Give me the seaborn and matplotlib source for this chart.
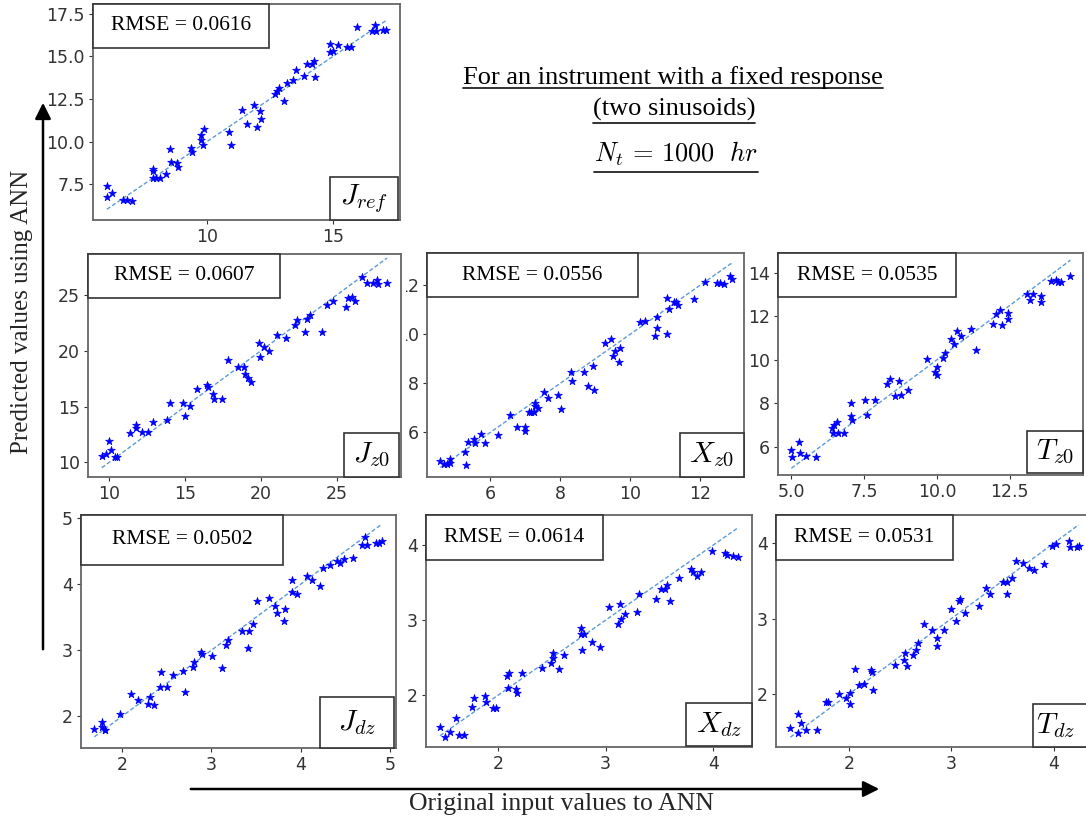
import matplotlib
matplotlib.use("Agg")
import matplotlib.pyplot as plt
import seaborn as sns
from matplotlib.patches import Rectangle, FancyArrowPatch
from matplotlib.lines import Line2D

# ---------------- data ----------------
panel_labels = [r"$J_{ref}$", r"$J_{z0}$", r"$X_{z0}$", r"$T_{z0}$", r"$J_{dz}$", r"$X_{dz}$", r"$T_{dz}$"]
rmse_values = ["0.0616", "0.0607", "0.0556", "0.0535", "0.0502", "0.0614", "0.0531"]

jref_orig = [6.03, 6.05, 6.24, 6.67, 6.83, 7.04, 7.86, 7.88, 7.86, 7.96, 8.12, 8.39, 8.52, 8.56, 8.82, 8.84,
             9.35, 9.42, 9.76, 9.78, 9.87, 9.86, 10.87, 10.95, 11.39, 11.60, 11.85, 11.99, 12.09, 12.13,
             12.72, 12.79, 12.86, 13.04, 13.17, 13.41, 13.52, 13.84, 13.97, 14.17, 14.23, 14.27, 14.87,
             14.87, 15.00, 15.20, 15.56, 15.73, 15.95, 16.56, 16.65, 16.69, 16.98, 17.12]
jref_pred = [7.39, 6.73, 6.96, 6.59, 6.59, 6.51, 8.38, 8.25, 7.86, 7.86, 7.86, 8.09, 9.59, 8.79, 8.73, 8.54,
             9.63, 9.42, 10.37, 10.08, 10.72, 9.81, 10.57, 9.79, 11.85, 11.05, 12.18, 10.88, 11.79, 11.35,
             12.77, 13.00, 13.12, 12.38, 13.47, 13.59, 14.19, 13.88, 14.58, 14.54, 14.76, 13.80, 15.75,
             15.26, 15.34, 15.69, 15.56, 15.56, 16.73, 16.51, 16.86, 16.51, 16.55, 16.55]

jz0_orig = [9.52, 9.82, 10.00, 10.11, 10.37, 10.53, 11.37, 11.76, 11.76, 12.14, 12.58, 12.91, 13.79, 14.01,
            14.85, 15.00, 15.33, 15.81, 16.48, 16.54, 16.87, 16.92, 17.47, 17.86, 18.52, 18.92, 18.96,
            19.14, 19.36, 19.91, 19.96, 20.24, 20.57, 21.06, 21.67, 22.29, 22.42, 22.89, 23.06, 23.22,
            24.05, 24.36, 24.76, 25.64, 25.73, 26.01, 26.23, 26.67, 27.00, 27.40, 27.67, 27.74, 28.33]
jz0_pred = [10.54, 10.78, 11.88, 11.13, 10.48, 10.48, 12.63, 13.37, 13.07, 12.69, 12.69, 13.58, 13.76, 15.31,
            15.37, 14.12, 15.10, 16.57, 16.96, 16.75, 16.15, 15.67, 15.67, 19.19, 18.60, 18.60, 17.94,
            17.55, 17.25, 20.69, 19.43, 20.39, 20.03, 21.43, 21.13, 22.30, 22.78, 21.73, 22.90, 23.19,
            21.73, 24.12, 24.51, 23.97, 24.72, 24.81, 24.48, 26.60, 26.12, 26.12, 26.36, 26.00, 26.06]

xz0_orig = [4.57, 4.67, 4.76, 4.84, 4.86, 5.29, 5.31, 5.36, 5.54, 5.57, 5.74, 5.84, 6.22, 6.57, 6.76, 7.00,
            7.00, 7.10, 7.17, 7.24, 7.29, 7.29, 7.38, 7.54, 7.65, 7.95, 8.02, 8.31, 8.35, 8.67, 8.81, 8.97,
            8.93, 9.29, 9.45, 9.50, 9.57, 9.67, 9.71, 10.29, 10.43, 10.71, 10.78, 10.78, 11.05, 11.07,
            11.12, 11.26, 11.31, 11.36, 11.84, 12.14, 12.48, 12.57, 12.70, 12.86, 12.93]
xz0_pred = [4.82, 4.72, 4.72, 4.93, 4.75, 5.22, 4.68, 5.61, 5.74, 5.56, 5.95, 5.56, 5.88, 6.69, 6.24, 6.22,
            6.07, 6.83, 6.83, 6.83, 7.20, 7.09, 6.99, 7.63, 7.40, 7.54, 6.97, 8.45, 8.08, 8.46, 7.88, 7.74,
            8.69, 9.65, 9.81, 9.13, 9.33, 8.86, 9.44, 10.49, 10.53, 9.95, 10.71, 10.26, 10.01, 11.48,
            11.05, 11.33, 11.33, 11.18, 11.44, 12.12, 12.10, 12.10, 12.05, 12.37, 12.26]

tz0_orig = [5.00, 5.03, 5.25, 5.29, 5.49, 5.84, 6.41, 6.45, 6.57, 6.43, 6.60, 6.81, 7.06, 7.04, 7.08, 7.52,
            7.60, 7.89, 8.30, 8.40, 8.55, 8.70, 8.78, 9.01, 9.66, 9.95, 10.01, 10.02, 10.21, 10.27, 10.50,
            10.59, 10.69, 10.84, 11.16, 11.36, 11.93, 12.04, 12.18, 12.22, 12.45, 12.45, 13.10, 13.19,
            13.30, 13.56, 13.59, 13.93, 14.08, 14.16, 14.27, 14.59]
tz0_pred = [5.85, 5.54, 6.20, 5.69, 5.57, 5.54, 6.85, 7.00, 7.11, 6.62, 6.62, 6.62, 8.03, 7.42, 7.23, 8.15,
            7.46, 8.15, 8.89, 9.11, 8.34, 9.00, 8.38, 8.62, 10.03, 9.42, 9.31, 9.66, 10.08, 10.31, 10.97,
            10.74, 11.31, 11.08, 11.43, 10.46, 11.65, 12.12, 12.31, 11.60, 12.15, 11.88, 13.03, 12.74,
            13.05, 12.92, 12.66, 13.62, 13.69, 13.57, 13.57, 13.88]

jdz_orig = [1.69, 1.78, 1.78, 1.81, 1.81, 1.98, 2.10, 2.18, 2.29, 2.31, 2.36, 2.44, 2.43, 2.50, 2.57, 2.68,
            2.71, 2.79, 2.81, 2.89, 2.90, 3.01, 3.12, 3.16, 3.19, 3.34, 3.42, 3.41, 3.47, 3.51, 3.65, 3.71,
            3.74, 3.82, 3.83, 3.90, 3.91, 3.96, 4.07, 4.13, 4.22, 4.25, 4.33, 4.41, 4.44, 4.49, 4.59, 4.69,
            4.72, 4.74, 4.85, 4.88, 4.91]
jdz_pred = [1.81, 1.91, 1.84, 1.80, 1.79, 2.03, 2.34, 2.25, 2.18, 2.29, 2.17, 2.67, 2.44, 2.44, 2.63, 2.68,
            2.37, 2.75, 2.82, 2.98, 2.95, 2.91, 2.73, 3.08, 3.16, 3.30, 3.30, 3.03, 3.40, 3.75, 3.80, 3.67,
            3.56, 3.45, 3.63, 4.07, 3.88, 3.85, 4.13, 4.06, 3.97, 4.24, 4.29, 4.35, 4.33, 4.38, 4.40, 4.60,
            4.71, 4.60, 4.62, 4.62, 4.65]

xdz_orig = [1.46, 1.51, 1.55, 1.61, 1.64, 1.68, 1.76, 1.78, 1.88, 1.89, 1.95, 1.98, 2.08, 2.10, 2.09, 2.17,
            2.18, 2.22, 2.41, 2.49, 2.51, 2.51, 2.57, 2.61, 2.77, 2.77, 2.80, 2.78, 2.87, 2.95, 3.03, 3.11,
            3.13, 3.14, 3.18, 3.29, 3.31, 3.47, 3.51, 3.55, 3.57, 3.60, 3.68, 3.79, 3.81, 3.85, 3.89, 3.99,
            4.11, 4.13, 4.18, 4.23]
xdz_pred = [1.58, 1.44, 1.51, 1.69, 1.47, 1.47, 1.84, 1.96, 1.99, 1.91, 1.83, 1.83, 2.26, 2.30, 2.10, 2.08,
            2.03, 2.30, 2.36, 2.43, 2.50, 2.56, 2.35, 2.53, 2.90, 2.82, 2.82, 2.60, 2.71, 2.64, 3.18, 2.95,
            3.22, 3.02, 3.08, 3.11, 3.35, 3.28, 3.41, 3.42, 3.47, 3.26, 3.56, 3.68, 3.64, 3.59, 3.64, 3.92,
            3.89, 3.87, 3.85, 3.84]

tdz_orig = [1.43, 1.50, 1.50, 1.53, 1.58, 1.69, 1.78, 1.80, 1.90, 1.97, 2.01, 2.01, 2.06, 2.10, 2.15, 2.22,
            2.23, 2.24, 2.45, 2.54, 2.55, 2.57, 2.63, 2.65, 2.67, 2.73, 2.81, 2.86, 2.86, 2.93, 3.00, 3.04,
            3.07, 3.08, 3.13, 3.27, 3.34, 3.38, 3.50, 3.54, 3.54, 3.59, 3.63, 3.70, 3.76, 3.80, 3.90, 3.98,
            4.02, 4.15, 4.16, 4.22, 4.24]
tdz_pred = [1.55, 1.49, 1.74, 1.62, 1.52, 1.52, 1.89, 1.89, 2.00, 1.95, 1.87, 2.02, 2.33, 2.12, 2.13, 2.32,
            2.29, 2.06, 2.39, 2.45, 2.55, 2.37, 2.52, 2.59, 2.67, 2.93, 2.85, 2.74, 2.63, 2.85, 3.12, 2.97,
            3.23, 3.26, 3.07, 3.16, 3.41, 3.32, 3.48, 3.48, 3.32, 3.54, 3.76, 3.74, 3.67, 3.64, 3.72, 3.96,
            3.98, 4.03, 3.94, 3.94, 3.96]

title_lines = ["For an instrument with a fixed response", "(two sinusoids)", r"$N_t\,=\,1000\ \ hr$"]
y_label = "Predicted values using ANN"
x_label = "Original input values to ANN"

series = [(jref_orig, jref_pred), (jz0_orig, jz0_pred), (xz0_orig, xz0_pred), (tz0_orig, tz0_pred),
          (jdz_orig, jdz_pred), (xdz_orig, xdz_pred), (tdz_orig, tdz_pred)]

# ---------------- layout / style ----------------
W, H = 1086, 823
sns.set_theme(style="white")
plt.rcParams["font.family"] = ["DejaVu Sans"]
plt.rcParams["mathtext.fontset"] = "cm"
SERIF = ["Liberation Serif", "DejaVu Serif"]

fig = plt.figure(figsize=(W / 100, H / 100), dpi=100)
fig.patch.set_facecolor("white")

def frect(l, t, r, b):
    return [l / W, 1 - b / H, (r - l) / W, (b - t) / H]

layout = [
    dict(rect=(93, 4, 400, 220), xlim=(5.48, 17.66), ylim=(5.4, 18.08), xt=[10, 15], yt=[7.5, 10, 12.5, 15, 17.5],
         xf="{:.0f}", yf="{:.1f}", rb=(176, 44), lb=(330, 177, 398, 220), z=2),
    dict(rect=(88, 254, 401, 477), xlim=(8.61, 29.25), ylim=(8.69, 28.69), xt=[10, 15, 20, 25], yt=[10, 15, 20, 25],
         xf="{:.0f}", yf="{:.0f}", rb=(192, 44), lb=(344, 433, 399, 477), z=4),
    dict(rect=(427, 253, 744, 477), xlim=(4.19, 13.26), ylim=(4.18, 13.32), xt=[6, 8, 10, 12], yt=[6, 8, 10, 12],
         xf="{:.0f}", yf="{:.0f}", rb=(211, 44), lb=(680, 433, 744, 477), z=2),
    dict(rect=(778, 253, 1083, 475), xlim=(4.54, 15.02), ylim=(4.69, 14.92), xt=[5, 7.5, 10, 12.5], yt=[6, 8, 10, 12, 14],
         xf="{:.1f}", yf="{:.0f}", rb=(178, 44), lb=(1027, 431, 1083, 473), z=2),
    dict(rect=(81, 515, 396, 748), xlim=(1.54, 5.07), ylim=(1.52, 5.05), xt=[2, 3, 4, 5], yt=[2, 3, 4, 5],
         xf="{:.0f}", yf="{:.0f}", rb=(202, 50), lb=(320, 697, 394, 748), z=2),
    dict(rect=(426, 515, 752, 747), xlim=(1.33, 4.36), ylim=(1.31, 4.40), xt=[2, 3, 4], yt=[2, 3, 4],
         xf="{:.0f}", yf="{:.0f}", rb=(177, 45), lb=(686, 703, 752, 746), z=2),
    dict(rect=(776, 515, 1092, 747), xlim=(1.29, 4.37), ylim=(1.30, 4.37), xt=[2, 3, 4], yt=[2, 3, 4],
         xf="{:.0f}", yf="{:.0f}", rb=(177, 45), lb=(1033, 704, 1100, 747), z=2),
]

# white mask hiding part of the X_z0 tick labels (composite look of the original)
mask = Rectangle((55 / W, 1 - 500 / H), (405.5 - 55) / W, (500 - 246) / H, transform=fig.transFigure,
                 facecolor="white", edgecolor="none", zorder=3)
fig.add_artist(mask)

for i, ((xo, yp), lay) in enumerate(zip(series, layout)):
    l, t, r, b = lay["rect"]
    ax = fig.add_axes(frect(l, t, r, b))
    ax.set_zorder(lay["z"])
    ax.set_facecolor("white")
    aw, ah = r - l, b - t
    lo, hi = min(xo), max(xo)
    sns.lineplot(x=[lo, hi], y=[lo, hi], ax=ax, color="#5b9bd5", lw=1.0, linestyle=(0, (3, 1.6)))
    sns.scatterplot(x=xo, y=yp, ax=ax, color="blue", marker="*", s=34, edgecolor="blue", linewidth=0.5, zorder=3)
    ax.set_xlim(*lay["xlim"])
    ax.set_ylim(*lay["ylim"])
    ax.set_xticks(lay["xt"])
    ax.set_yticks(lay["yt"])
    ax.set_xticklabels([lay["xf"].format(v) for v in lay["xt"]])
    ax.set_yticklabels([lay["yf"].format(v) for v in lay["yt"]])
    ax.tick_params(axis="both", labelsize=12.5, colors="#333333", length=3, width=0.8, pad=3,
                   bottom=True, left=True)
    for sp in ax.spines.values():
        sp.set_color("#666666")
        sp.set_linewidth(1.3)
    ax.set_xlabel("")
    ax.set_ylabel("")
    # RMSE box (top-left)
    bw, bh = lay["rb"]
    ax.add_patch(Rectangle((0, 1 - bh / ah), bw / aw, bh / ah, transform=ax.transAxes, facecolor="white",
                           edgecolor="#333333", lw=1.2, zorder=5, clip_on=False))
    ax.text(bw / aw / 2, 1 - bh / ah / 2, "RMSE = " + rmse_values[i], transform=ax.transAxes, ha="center",
            va="center", fontsize=15.5, family=SERIF, color="black", zorder=6)
    # variable label box (bottom-right)
    ll, lt, lr, lb = lay["lb"]
    ax.add_patch(Rectangle(((ll - l) / aw, (b - lb) / ah), (lr - ll) / aw, (lb - lt) / ah, transform=ax.transAxes,
                           facecolor="white", edgecolor="#333333", lw=1.2, zorder=5, clip_on=False))
    cx = ((ll + lr) / 2 - l) / aw
    if i == 6:
        cx = ((ll + 1078) / 2 - l) / aw
    ax.text(cx, (b - (lt + lb) / 2) / ah, panel_labels[i], transform=ax.transAxes, ha="center", va="center",
            fontsize=21, color="black", zorder=6)

# title lines
title_pos = [(673, 84), (674, 116), (676, 162)]
title_texts = []
for s, (x, y) in zip(title_lines, title_pos):
    tt = fig.text(x / W, 1 - y / H, s, ha="center", va="baseline", fontsize=19, family=SERIF, color="black")
    title_texts.append(tt)

# axis labels
fig.text(22 / W, 1 - 312 / H, y_label, rotation=90, ha="center", va="center", fontsize=18, family=SERIF)
fig.text(561 / W, 1 - 804 / H, x_label, ha="center", va="center", fontsize=18.5, family=SERIF)

# arrows
fig.add_artist(FancyArrowPatch((43 / W, 1 - 652 / H), (43 / W, 1 - 100 / H),
               transform=fig.transFigure, arrowstyle="-|>,head_length=6,head_width=3", mutation_scale=1.6,
               color="black", lw=1.8))
fig.add_artist(FancyArrowPatch((188 / W, 1 - 789 / H), (882 / W, 1 - 789 / H),
               transform=fig.transFigure, arrowstyle="-|>,head_length=6,head_width=3", mutation_scale=1.6,
               color="black", lw=1.8))

# underlines of the title lines
fig.canvas.draw()
renderer = fig.canvas.get_renderer()
underline_y = [88, 123, 172]
for tt, uy in zip(title_texts, underline_y):
    bb = tt.get_window_extent(renderer)
    fig.add_artist(Line2D([bb.x0 / W, bb.x1 / W], [1 - uy / H, 1 - uy / H], transform=fig.transFigure,
                          color="#222222", lw=1.3))

fig.savefig("out.png", dpi=100, facecolor="white")
